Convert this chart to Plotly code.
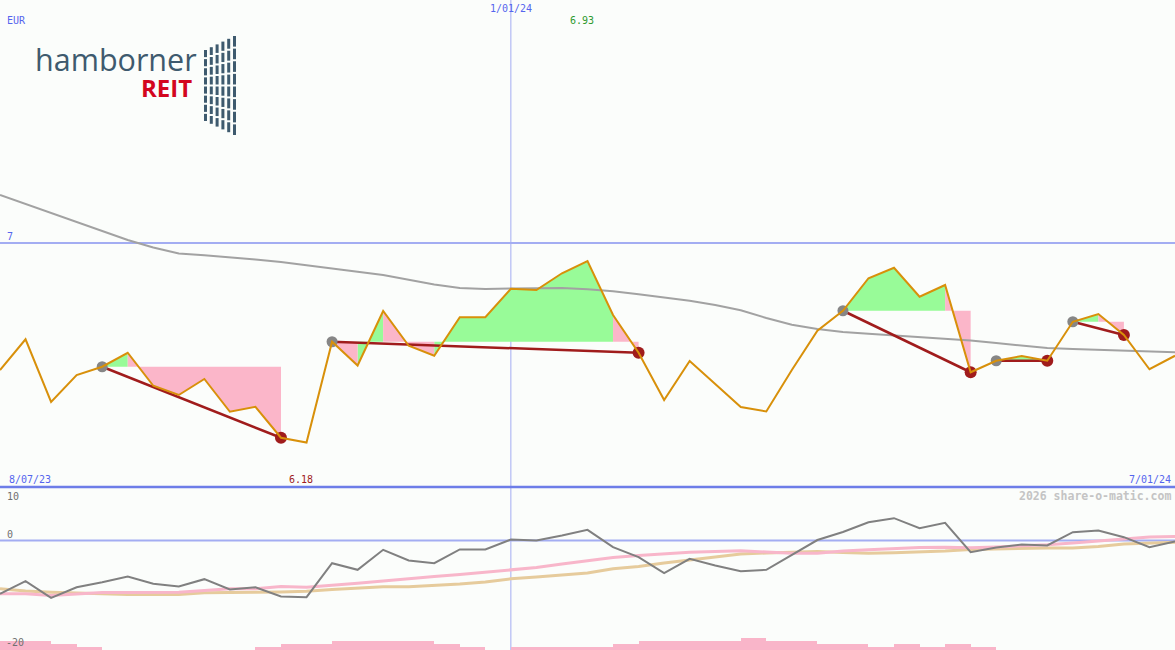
import plotly.graph_objects as go

# ---------------- data (weekly, index 0 = week of 8/14/23, 46 = 7/01/24) ----------------
weeks = list(range(47))
close = [6.492, 6.615, 6.364, 6.472, 6.505, 6.561, 6.429, 6.392, 6.456, 6.325,
         6.345, 6.221, 6.202, 6.605, 6.510, 6.728, 6.589, 6.549, 6.703, 6.703,
         6.817, 6.812, 6.879, 6.928, 6.712, 6.561, 6.372, 6.528, 6.436, 6.344,
         6.326, 6.492, 6.649, 6.729, 6.859, 6.901, 6.785, 6.832, 6.483, 6.529,
         6.548, 6.529, 6.685, 6.716, 6.632, 6.495, 6.549]
ma_long = [7.192, 7.156, 7.120, 7.085, 7.050, 7.012, 6.982, 6.958, 6.951, 6.944,
           6.934, 6.924, 6.910, 6.898, 6.885, 6.872, 6.852, 6.834, 6.820, 6.816,
           6.818, 6.820, 6.820, 6.815, 6.807, 6.795, 6.783, 6.769, 6.752, 6.731,
           6.700, 6.673, 6.656, 6.644, 6.637, 6.631, 6.624, 6.617, 6.610, 6.600,
           6.591, 6.580, 6.576, 6.572, 6.568, 6.566, 6.563]
momentum = [-9.96, -7.61, -10.71, -8.73, -7.79, -6.73, -8.09, -8.60, -7.23, -9.16,
            -8.73, -10.47, -10.60, -4.24, -5.48, -1.74, -3.74, -4.24, -1.68, -1.68,
            0.19, 0.00, 0.93, 2.00, -1.25, -3.12, -6.11, -3.42, -4.67, -5.74,
            -5.48, -2.75, 0.09, 1.59, 3.42, 4.17, 2.30, 3.31, -2.19, -1.31,
            -0.75, -0.93, 1.55, 1.87, 0.62, -1.25, -0.19]
signal_pink = [-9.96, -9.96, -10.28, -9.96, -9.72, -9.72, -9.66, -9.66, -9.35, -9.03,
               -9.03, -8.60, -8.73, -8.41, -7.98, -7.57, -7.10, -6.73, -6.36, -5.89,
               -5.48, -5.05, -4.39, -3.74, -3.18, -2.80, -2.43, -2.19, -2.06, -1.93,
               -2.15, -2.37, -2.37, -1.96, -1.74, -1.50, -1.29, -1.25, -1.36, -1.21,
               -1.03, -0.79, -0.47, -0.09, 0.37, 0.65, 0.75]
signal_tan = [-9.03, -9.44, -9.66, -9.85, -9.96, -10.09, -10.15, -10.09, -9.78, -9.66,
              -9.66, -9.63, -9.50, -9.16, -8.84, -8.64, -8.65, -8.41, -8.13, -7.76,
              -7.16, -6.82, -6.45, -6.07, -5.29, -4.86, -4.21, -3.61, -2.99, -2.52,
              -2.34, -2.19, -2.06, -2.24, -2.37, -2.30, -2.15, -1.96, -1.68, -1.55,
              -1.44, -1.38, -1.40, -1.12, -0.65, -0.50, -0.32]
# activity bars, one per weekly interval (46 intervals)
activity = [3, 3, 2, 1, 0, 0, 0, 0, 0, 0, 1, 2, 2, 3, 3, 3, 3, 2, 1, 0,
            1, 1, 1, 1, 2, 3, 3, 3, 3, 4, 3, 3, 2, 2, 1, 2, 1, 2, 1, 0,
            0, 0, 0, 0, 0, 0]
# trades: (entry week, exit week)
trades = [(4, 11), (13, 25), (33, 38), (39, 41), (42, 44)]
ref_level = 7
date_labels = ["8/07/23", "1/01/24", "7/01/24"]
marker_week = 20
high_label, low_label = "6.93", "6.18"
osc_ticks = [10, 0, -20]

# ---------------- geometry ----------------
W, H = 1175, 650
SPLIT = 487
def px(x): return x / W
def py(y): return 1 - y / H

main_range = [6.024, 7.972]
osc_range = [10 - (H - SPLIT) / 5.35, 10]

BLUE = "#5565ee"
LIGHTBLUE = "#a3adf2"
DARKRED = "#a01c1c"
ORANGE = "#d8900a"

fig = go.Figure()

# ---- trade fills (per weekly segment, coloured by the segment end vs entry level) ----
gx, gy, rx, ry = [], [], [], []
for a, b in trades:
    L = close[a]
    for i in range(a, b):
        xs = [weeks[i], weeks[i + 1], weeks[i + 1], weeks[i], weeks[i], None]
        ys = [L, L, close[i + 1], close[i], L, None]
        if close[i + 1] >= L:
            gx += xs; gy += ys
        else:
            rx += xs; ry += ys
fig.add_trace(go.Scatter(x=gx, y=gy, fill="toself", fillcolor="#98fb98", mode="lines",
                         line=dict(width=0), hoverinfo="skip", showlegend=False))
fig.add_trace(go.Scatter(x=rx, y=ry, fill="toself", fillcolor="#fbb6c9", mode="lines",
                         line=dict(width=0), hoverinfo="skip", showlegend=False))

# ---- long moving average ----
fig.add_trace(go.Scatter(x=weeks, y=ma_long, mode="lines",
                         line=dict(color="#a2a2a2", width=2), showlegend=False))

# ---- trade connectors ----
cx, cy = [], []
for a, b in trades:
    cx += [weeks[a], weeks[b], None]
    cy += [close[a], close[b], None]
fig.add_trace(go.Scatter(x=cx, y=cy, mode="lines", line=dict(color=DARKRED, width=2.5),
                         showlegend=False))
fig.add_trace(go.Scatter(x=[weeks[a] for a, b in trades], y=[close[a] for a, b in trades],
                         mode="markers", marker=dict(color="#868686", size=11, line=dict(width=0)),
                         showlegend=False))
fig.add_trace(go.Scatter(x=[weeks[b] for a, b in trades], y=[close[b] for a, b in trades],
                         mode="markers", marker=dict(color=DARKRED, size=12, line=dict(width=0)),
                         showlegend=False))

# ---- price ----
fig.add_trace(go.Scatter(x=weeks, y=close, mode="lines",
                         line=dict(color=ORANGE, width=2), showlegend=False))

# ---- lower panel ----
fig.add_trace(go.Bar(x=[w + 0.5 for w in weeks[:-1]], y=activity, width=1,
                     marker=dict(color="#f9b5c9", line=dict(width=0)),
                     xaxis="x", yaxis="y3", showlegend=False))
fig.add_trace(go.Scatter(x=weeks, y=signal_tan, mode="lines", xaxis="x", yaxis="y2",
                         line=dict(color="#e6cb9c", width=3), showlegend=False))
fig.add_trace(go.Scatter(x=weeks, y=signal_pink, mode="lines", xaxis="x", yaxis="y2",
                         line=dict(color="#f8b6ca", width=3), showlegend=False))
fig.add_trace(go.Scatter(x=weeks, y=momentum, mode="lines", xaxis="x", yaxis="y2",
                         line=dict(color="#808080", width=2), showlegend=False))

dom_split = 1 - SPLIT / H
shapes = [
    dict(type="line", xref="paper", x0=0, x1=1, yref="y", y0=ref_level, y1=ref_level,
         line=dict(color=LIGHTBLUE, width=2), layer="below"),
    dict(type="line", xref="paper", x0=0, x1=1, yref="y2", y0=0, y1=0,
         line=dict(color=LIGHTBLUE, width=2), layer="below"),
    dict(type="line", xref="x", x0=marker_week, x1=marker_week, yref="paper", y0=0, y1=1,
         line=dict(color=LIGHTBLUE, width=1), layer="below"),
    dict(type="line", xref="paper", x0=0, x1=1, yref="paper", y0=dom_split, y1=dom_split,
         line=dict(color="#6d7de8", width=2.5), layer="above"),
]

# ---- logo (decorative) ----
LOGO = "#3e5a6e"
for k in range(6):
    x0 = 204 + 5.8 * k
    top = 50 - 2.8 * k
    bot = 123 + 2.8 * k
    seg = (bot - top) / 8
    for r in range(8):
        shapes.append(dict(type="rect", xref="paper", yref="paper",
                           x0=px(x0), x1=px(x0 + 3), y0=py(top + r * seg + seg - 2),
                           y1=py(top + r * seg), fillcolor=LOGO, line=dict(width=0)))

MONO = "DejaVu Sans Mono"
def ann(text, x, y, color, xanchor="left", size=10, xref="paper", yref="paper", yshift=0, family=MONO):
    return dict(text=text, x=x, y=y, xref=xref, yref=yref, xanchor=xanchor, yanchor="middle",
                showarrow=False, font=dict(family=family, size=size, color=color), yshift=yshift)

annotations = [
    ann("EUR", px(5), py(21), BLUE),
    ann(date_labels[1], marker_week, py(9), BLUE, xanchor="center", xref="x"),
    ann(high_label, px(582), py(21), "#2f9a2f", xanchor="center"),
    ann(str(ref_level), px(5), ref_level, BLUE, yref="y", yshift=7),
    ann(date_labels[0], px(7), py(479), BLUE),
    ann(low_label, px(301), py(479), DARKRED, xanchor="center"),
    ann(date_labels[2], px(1173), py(479), BLUE, xanchor="right"),
    ann(str(osc_ticks[0]), px(5), py(496), "#707070"),
    ann(str(osc_ticks[1]), px(5), osc_ticks[1], "#707070", yref="y2", yshift=6),
    ann(str(osc_ticks[2]), px(4), py(642), "#707070"),
    ann("<b>2026 share-o-matic.com</b>", px(1173), py(496), "#c4c4c4", xanchor="right", size=11.5),
    ann("hamborner", px(33), py(59), LOGO, size=30.5, family="Open Sans"),
    ann("<b>REIT</b>", px(194), py(87), "#d3061e", xanchor="right", size=24, family="Open Sans"),
]

fig.update_layout(
    width=W, height=H, margin=dict(l=0, r=0, t=0, b=0),
    paper_bgcolor="#fbfdfb", plot_bgcolor="#fbfdfb",
    showlegend=False, bargap=0,
    xaxis=dict(range=[0, 46], domain=[0, 1], anchor="y2", visible=False),
    yaxis=dict(range=main_range, domain=[dom_split, 1], anchor="x", visible=False),
    yaxis2=dict(range=osc_range, domain=[0, dom_split], anchor="x", visible=False),
    yaxis3=dict(range=[0, (H - SPLIT) / 3], domain=[0, dom_split], anchor="x",
                overlaying="y2", visible=False),
    shapes=shapes, annotations=annotations,
)

fig.write_html("out.html", config={"displayModeBar": False},
               post_script="document.body.style.margin='0';")
